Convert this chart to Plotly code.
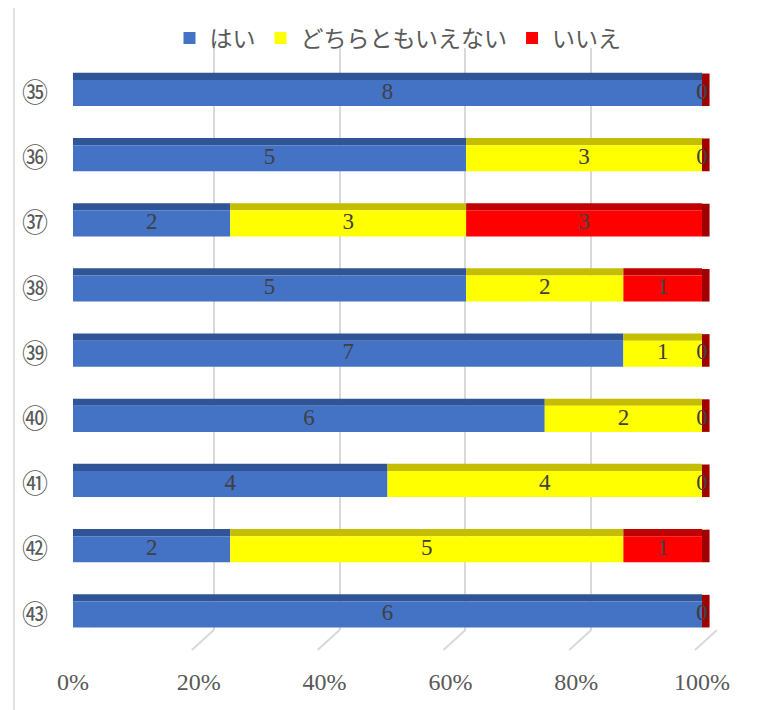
import plotly.graph_objects as go

# ---------------- data ----------------
categories = ["㉟", "㊱", "㊲", "㊳", "㊴", "㊵", "㊶", "㊷", "㊸"]
series_names = ["はい", "どちらともいえない", "いいえ"]
yes_vals = [8, 5, 2, 5, 7, 6, 4, 2, 6]
neutral_vals = [0, 3, 3, 2, 1, 2, 4, 5, 0]
no_vals = [0, 0, 3, 1, 0, 0, 0, 1, 0]
tick_vals = [0, 0.2, 0.4, 0.6, 0.8, 1.0]
tick_text = ["0%", "20%", "40%", "60%", "80%", "100%"]

front_colors = ["#4472C4", "#FFFF00", "#FF0000"]
top_colors = ["#2F5597", "#C4BD00", "#C00000"]
side_color = "#A00000"

OFF = 8  # page body margin
W, H = 775 - OFF, 710 - OFF
series = [yes_vals, neutral_vals, no_vals]
totals = [sum(v) for v in zip(*series)]
shares = [[v / t for v, t in zip(s, totals)] for s in series]
bases = []
for i in range(len(series)):
    bases.append([sum(shares[j][r] for j in range(i)) for r in range(len(categories))])
ends = [bases[-1][r] + shares[-1][r] for r in range(len(categories))]

# pixel geometry of the bar axis (front face 0% .. 100%)
X0_PX, X100_PX, XEXT_PX = 73, 702, 714
x_extra = (XEXT_PX - X100_PX) / (X100_PX - X0_PX)


def px_x(p):
    return (p - OFF) / W


def px_y(p):
    return 1 - (p - OFF) / H


fig = go.Figure()

# invisible trace to create gridline subplot (x / y)
fig.add_trace(go.Scatter(x=[None], y=[None], xaxis="x", yaxis="y",
                         showlegend=False, hoverinfo="skip"))

# top faces (3D look)
for i, sh in enumerate(shares):
    fig.add_trace(go.Bar(
        y=categories, x=sh, base=bases[i], orientation="h", xaxis="x2", yaxis="y2",
        marker=dict(color=top_colors[i], line=dict(width=0)),
        width=0.11, offset=-0.31, showlegend=False, hoverinfo="skip",
    ))

# side face at the end of each bar
fig.add_trace(go.Bar(
    y=categories, x=[0.012] * len(categories), base=ends,
    orientation="h", xaxis="x2", yaxis="y2",
    marker=dict(color=side_color, line=dict(width=0)),
    width=0.50, offset=-0.30, showlegend=False, hoverinfo="skip",
))

# front faces
for i, sh in enumerate(shares):
    fig.add_trace(go.Bar(
        y=categories, x=sh, base=bases[i], name=series_names[i], orientation="h",
        xaxis="x2", yaxis="y2",
        marker=dict(color=front_colors[i], line=dict(width=0)),
        width=0.4, offset=-0.2,
    ))

# data labels (centered in each segment)
lab_x, lab_y, lab_t = [], [], []
for r, cat in enumerate(categories):
    for i in range(3):
        lab_x.append(bases[i][r] + shares[i][r] / 2)
        lab_y.append(cat)
        lab_t.append(str(series[i][r]))
fig.add_trace(go.Scatter(
    x=lab_x, y=lab_y, text=lab_t, mode="text", xaxis="x2", yaxis="y2",
    textposition="middle center", cliponaxis=False,
    textfont=dict(family="Liberation Serif", size=23, color="#404040"),
    showlegend=False, hoverinfo="skip",
))

# diagonal floor lines
shapes = []
for v in tick_vals:
    shapes.append(dict(type="line", xref="x", xsizemode="pixel", xanchor=v,
                       x0=0, x1=-22, yref="paper", y0=px_y(630), y1=px_y(650),
                       line=dict(color="#D9D9D9", width=2), layer="below"))
# chart border
shapes.append(dict(type="line", xref="paper", yref="paper", x0=px_x(14), x1=px_x(14),
                   y0=0, y1=1, line=dict(color="#D9D9D9", width=1.5)))
shapes.append(dict(type="line", xref="paper", yref="paper", x0=px_x(770), x1=px_x(770),
                   y0=0, y1=1, line=dict(color="#D9D9D9", width=1.5)))

fig.update_layout(
    width=W, height=H,
    margin=dict(l=0, r=0, t=0, b=0, autoexpand=False),
    paper_bgcolor="white", plot_bgcolor="rgba(0,0,0,0)",
    barmode="overlay",
    shapes=shapes,
    xaxis=dict(domain=[px_x(88), px_x(717)], anchor="y", range=[0, 1],
               tickvals=tick_vals, showticklabels=False, showgrid=True,
               gridcolor="#D9D9D9", gridwidth=2, zeroline=False, showline=False,
               automargin=False, fixedrange=True),
    yaxis=dict(domain=[px_y(630), px_y(48)], anchor="x", range=[0, 1],
               visible=False, showgrid=False, automargin=False, fixedrange=True),
    xaxis2=dict(domain=[px_x(X0_PX), px_x(XEXT_PX)], anchor="y2",
                range=[0, 1 + x_extra],
                tickvals=tick_vals, ticktext=tick_text, showgrid=False,
                zeroline=False, showline=False, ticks="",
                ticklabelstandoff=18, automargin=False,
                tickfont=dict(family="Liberation Serif", size=24, color="#595959"),
                fixedrange=True),
    yaxis2=dict(domain=[px_y(647), px_y(60.4)], anchor="x2",
                type="category", categoryorder="array", categoryarray=categories,
                range=[8.5, -0.5], showgrid=False, zeroline=False, showline=False,
                ticks="", ticklabelstandoff=24, automargin=False,
                tickfont=dict(family="Noto Sans CJK JP", size=26, color="#595959"),
                fixedrange=True),
    legend=dict(orientation="h", x=px_x(398), xanchor="center", y=px_y(38),
                yanchor="middle", traceorder="normal",
                font=dict(family="Noto Sans CJK JP", size=23, color="#595959"),
                bgcolor="rgba(0,0,0,0)"),
    showlegend=True,
)

fig.write_html("out.html")
